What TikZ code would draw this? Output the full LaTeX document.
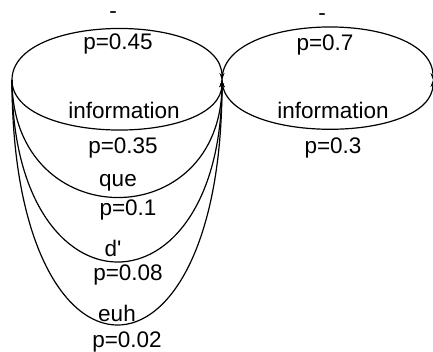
\documentclass[tikz,border=0pt]{standalone}
\usepackage{fontspec}
\setmainfont{Liberation Sans}
\usetikzlibrary{arrows.meta}
\begin{document}
\begin{tikzpicture}[x=1pt,y=-1pt,
  arc/.style={line width=1.2pt,-{Stealth[length=7pt,width=5pt]}},
  lbl/.style={inner sep=0pt,font=\fontsize{22.5}{22.5}\selectfont}]
\useasboundingbox (0,0) rectangle (433,351);
\coordinate (s0) at (12,80);
\coordinate (s1) at (222,80);
\coordinate (s2) at (433,80);
% left arcs
\draw[arc] (s0) .. controls +(0,-68) and +(0,-68) .. (s1);
\draw[arc] (s0) .. controls +(0,66) and +(0,66) .. (s1);
\draw[arc] (s0) .. controls +(0,156) and +(0,156) .. (s1);
\draw[arc] (s0) .. controls +(0,242) and +(0,242) .. (s1);
\draw[arc] (s0) .. controls +(0,326) and +(0,326) .. (s1);
% right arcs
\draw[arc] (s1) .. controls +(0,-70) and +(0,-70) .. (s2);
\draw[arc] (s1) .. controls +(0,65) and +(0,65) .. (s2);
% labels left
\node[lbl] (l1) at (113,15) {-};
\node[lbl] (l2) at (118,44) {p=0.45};
\node[lbl] (l3) at (124,110) {information};
\node[lbl] (l4) at (123,148) {p=0.35};
\node[lbl] (l5) at (118,183) {que};
\node[lbl] (l6) at (128,210) {p=0.1};
\node[lbl] (l7) at (113,248) {d\textquotesingle};
\node[lbl] (l8) at (128,275) {p=0.08};
\node[lbl] (l9) at (117,313) {euh};
\node[lbl] (l10) at (127,342) {p=0.02};
% labels right
\node[lbl] (r1) at (322,17) {-};
\node[lbl] (r2) at (325,45) {p=0.7};
\node[lbl] (r3) at (333,110) {information};
\node[lbl] (r4) at (333,148) {p=0.3};
\end{tikzpicture}
\end{document}
